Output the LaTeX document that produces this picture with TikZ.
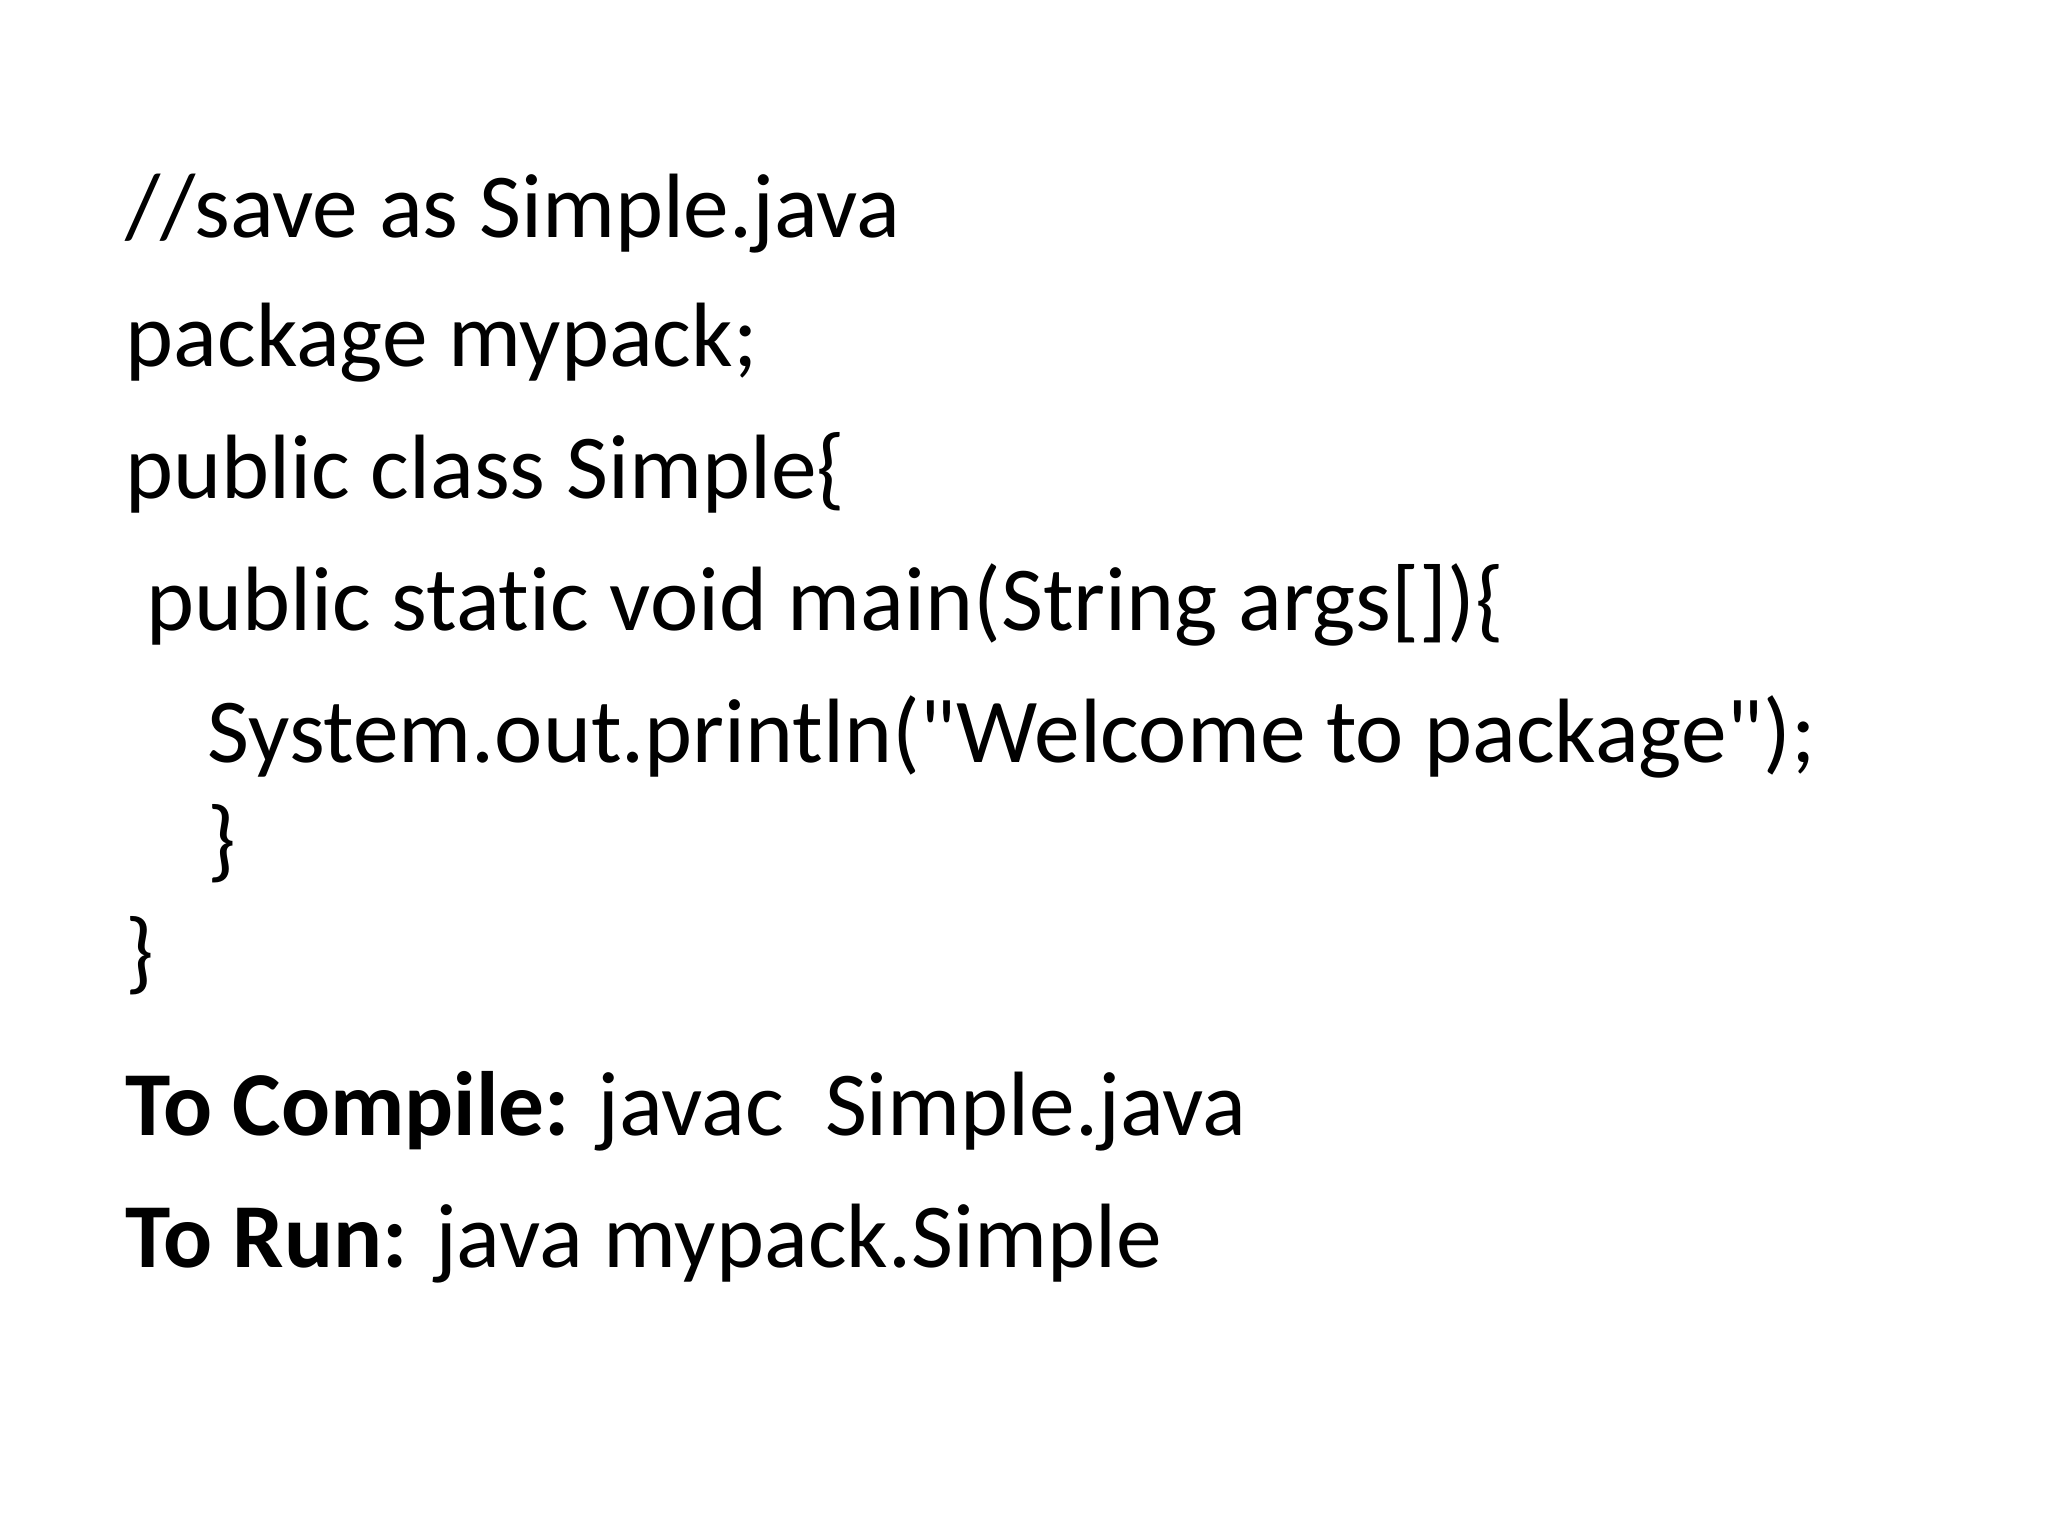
\documentclass[tikz,border=0pt]{standalone}
\usepackage{fontspec}
\setmainfont{Carlito}[Ligatures={TeXOff,NoCommon}]
\begin{document}
\begin{tikzpicture}[x=1cm,y=1cm]
\tikzset{codeline/.style={anchor=base west,inner sep=0pt,font=\fontsize{26}{31}\selectfont}}
\useasboundingbox (0,0) rectangle (20.48,15.36);
\fill[white] (0,0) rectangle (20.48,15.36);
\node[codeline] (l1) at (1.25,12.98) {//save as Simple.java};
\node[codeline] (l2) at (1.25,11.69) {package mypack;};
\node[codeline] (l3) at (1.25,10.37) {public class Simple\{};
\node[codeline] (l4) at (1.46,9.05) {public static void main(String args[])\{};
\node[codeline] (l5) at (2.07,7.73) {System.out.println("Welcome to package");};
\node[codeline] (l6) at (2.07,6.65) {\}};
\node[codeline] (l7) at (1.25,5.53) {\}};
\node[codeline] (l8) at (1.25,4.00) {\textbf{To Compile:} javac\ \ Simple.java};
\node[codeline] (l9) at (1.25,2.68) {\textbf{To Run:} java mypack.Simple};
\end{tikzpicture}
\end{document}
